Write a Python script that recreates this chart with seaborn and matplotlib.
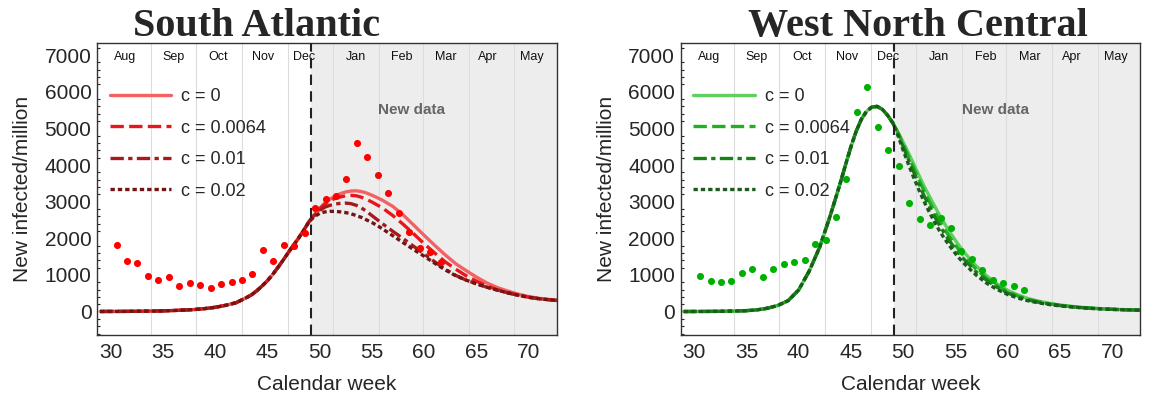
import numpy as np
import pandas as pd
import matplotlib
matplotlib.use("Agg")
import matplotlib.pyplot as plt
import matplotlib.transforms as mtransforms
from matplotlib.ticker import MultipleLocator
import seaborn as sns

# ---------------- data ----------------
c_labels = ["c = 0", "c = 0.0064", "c = 0.01", "c = 0.02"]

# model grid (calendar week)
grid_common = [29, 30, 31, 32, 33, 34, 35, 36, 37, 38, 39, 40, 41, 42, 43,
               43.5, 44, 44.5, 45, 45.5, 46, 46.5, 47, 47.5, 48, 48.5, 49]
grid_tail = [49.5, 50, 50.5, 51, 51.5, 52, 52.5, 53, 53.5, 54, 54.5, 55, 55.5, 56,
             57, 58, 59, 60, 61, 62, 63, 64, 65, 66, 67, 68, 69, 70, 71, 72, 73]

# South Atlantic model
sa_common = [2, 3, 4, 6, 9, 13, 19, 28, 40, 55, 80, 115, 170, 240, 380,
             460, 570, 700, 840, 1010, 1200, 1400, 1610, 1810, 2010, 2230, 2460]
sa_c0 = [2650, 2820, 2960, 3070, 3160, 3220, 3265, 3290, 3295, 3275, 3235, 3175, 3110, 3040,
         2870, 2635, 2360, 2080, 1810, 1550, 1310, 1120, 940, 780, 655, 560, 475, 410, 360, 330, 305]
sa_c0064 = [2640, 2800, 2930, 3030, 3090, 3130, 3160, 3170, 3160, 3120, 3060, 2990, 2910, 2830,
            2620, 2380, 2120, 1850, 1600, 1360, 1160, 980, 830, 700, 595, 515, 445, 390, 350, 320, 295]
sa_c01 = [2620, 2760, 2850, 2900, 2935, 2955, 2960, 2945, 2900, 2830, 2730, 2620, 2510, 2400,
          2190, 1990, 1780, 1570, 1360, 1160, 990, 860, 760, 665, 585, 510, 445, 390, 350, 320, 295]
sa_c02 = [2590, 2680, 2720, 2735, 2735, 2720, 2700, 2670, 2620, 2570, 2500, 2430, 2350, 2260,
          2070, 1880, 1690, 1510, 1320, 1140, 980, 860, 755, 665, 585, 510, 445, 390, 350, 320, 295]

# West North Central model
wnc_common = [1, 2, 3, 5, 9, 15, 25, 45, 90, 165, 300, 590, 1100, 1750, 2600,
              3060, 3530, 4020, 4500, 4920, 5250, 5470, 5580, 5600, 5520, 5360, 5150]
wnc_c0 = [4900, 4620, 4330, 4030, 3720, 3420, 3150, 2880, 2620, 2380, 2150, 1940, 1740, 1560,
          1240, 970, 750, 580, 450, 350, 280, 225, 180, 145, 118, 95, 78, 64, 53, 45, 38]
wnc_c0064 = [4880, 4560, 4240, 3920, 3600, 3290, 3000, 2730, 2470, 2230, 2010, 1810, 1620, 1450,
             1150, 900, 700, 540, 420, 330, 265, 212, 170, 138, 112, 91, 75, 62, 51, 44, 37]
wnc_c01 = [4850, 4500, 4150, 3810, 3480, 3160, 2870, 2600, 2340, 2110, 1900, 1710, 1530, 1370,
           1080, 850, 660, 505, 395, 312, 250, 202, 163, 132, 108, 88, 72, 60, 50, 43, 36]
wnc_c02 = [4800, 4400, 4020, 3660, 3320, 3000, 2710, 2440, 2190, 1970, 1770, 1580, 1410, 1260,
           990, 770, 600, 465, 365, 290, 235, 190, 155, 127, 104, 85, 70, 58, 49, 42, 36]

# observed weekly data
data_weeks = [30.57, 31.57, 32.57, 33.57, 34.57, 35.57, 36.57, 37.57, 38.57, 39.57,
              40.57, 41.57, 42.57, 43.57, 44.57, 45.57, 46.57, 47.57, 48.57, 49.57,
              50.57, 51.57, 52.57, 53.57, 54.57, 55.57, 56.57, 57.57, 58.57, 59.57,
              60.57, 61.57]
sa_data = [1817, 1390, 1336, 981, 855, 945, 700, 790, 736, 654,
           746, 809, 864, 1023, 1681, 1373, 1809, 1781, 2136, 2826,
           3063, 3161, 3616, 4605, 4224, 3733, 3243, 2689, 2163, 1736,
           1618, 1346]
wnc_data = [973, 828, 801, 837, 1054, 1163, 954, 1163, 1291, 1346,
            1409, 1845, 1945, 2589, 3624, 5450, 6131, 5025, 4398, 3978,
            2954, 2526, 2354, 2561, 2272, 1646, 1436, 1136, 856, 774,
            692, 600]

month_names = ["Aug", "Sep", "Oct", "Nov", "Dec", "Jan", "Feb", "Mar", "Apr", "May"]
month_label_pos = [31.4, 36.0, 40.3, 44.6, 48.55, 53.45, 57.9, 62.1, 66.1, 70.3]
month_starts = [33.86, 38.16, 42.56, 46.96, 51.27, 55.67, 59.88, 64.28, 68.6]
new_data_week = 49.14

# ---------------- style ----------------
sns.set_style("white")
plt.rcParams["font.family"] = ["Liberation Sans", "DejaVu Sans"]

fig = plt.figure(figsize=(11.49, 3.99), dpi=100)
ax1 = fig.add_axes([0.0844, 0.1604, 0.4003, 0.7318])
ax2 = fig.add_axes([0.5923, 0.1604, 0.4003, 0.7318])

panels = [
    (ax1, "South Atlantic", 0.348, sa_common, [sa_c0, sa_c0064, sa_c01, sa_c02], sa_data,
     ["#f26262", "#e8161c", "#a81a1a", "#721414"], "#ff0000"),
    (ax2, "West North Central", 0.516, wnc_common, [wnc_c0, wnc_c0064, wnc_c01, wnc_c02], wnc_data,
     ["#5fcf5f", "#22b022", "#178017", "#1c5a1e"], "#00b000"),
]

dash_map = {
    "c = 0": "",
    "c = 0.0064": (4, 1.6),
    "c = 0.01": (4, 1.3, 1.3, 1.3),
    "c = 0.02": (1.3, 0.9),
}

for ax, title, title_x, common, tails, obs, cols, dcol in panels:
    rows = []
    for lab, tail in zip(c_labels, tails):
        xs = grid_common + grid_tail
        ys = common + tail
        for x, y in zip(xs, ys):
            rows.append({"week": x, "value": y, "c": lab})
    df = pd.DataFrame(rows)

    ax.axvspan(new_data_week, 80, color="#ededed", zorder=0, lw=0)
    for m in month_starts:
        ax.axvline(m, color="#dcdcdc", lw=0.8, zorder=0.5)

    sns.lineplot(data=df, x="week", y="value", hue="c", style="c",
                 hue_order=c_labels, style_order=c_labels,
                 palette=dict(zip(c_labels, cols)), dashes=dash_map,
                 linewidth=2.4, ax=ax, legend=True, zorder=2)
    sns.scatterplot(x=data_weeks, y=obs, color=dcol, s=26, linewidth=0, ax=ax, zorder=3)

    ax.axvline(new_data_week, color="#222222", lw=1.5, ls=(0, (5, 3)), zorder=4)

    ax.set_xlim(28.7, 72.7)
    ax.set_ylim(-640, 7330)
    ax.xaxis.set_major_locator(MultipleLocator(5))
    ax.yaxis.set_major_locator(MultipleLocator(1000))
    ax.yaxis.set_minor_locator(MultipleLocator(200))
    ax.tick_params(axis="both", which="major", direction="in", length=5, width=1,
                   labelsize=15, color="#222222")
    ax.tick_params(axis="y", which="minor", direction="in", length=2.5, width=0.8,
                   left=True, color="#222222")
    ax.tick_params(axis="x", which="major", pad=6)
    ax.tick_params(axis="y", which="major", pad=4)
    for sp in ax.spines.values():
        sp.set_color("#333333")
        sp.set_linewidth(1.0)

    ax.set_xlabel("Calendar week", fontsize=15, labelpad=9)
    ax.set_ylabel("New infected/million", fontsize=15, labelpad=9)
    ax.set_title(title, fontfamily=["Liberation Serif", "DejaVu Serif"], fontweight="bold",
                 fontsize=29, pad=5, x=title_x)

    trans = mtransforms.blended_transform_factory(ax.transData, ax.transAxes)
    for name, pos in zip(month_names, month_label_pos):
        ax.text(pos, 0.952, name, transform=trans, ha="center", va="center",
                fontsize=9, color="#111111")

    ax.text(58.8, 5500, "New data", ha="center", va="center", fontsize=11,
            fontweight="bold", color="#666666")

    leg = ax.get_legend()
    handles = leg.legend_handles
    labels = [t.get_text() for t in leg.texts]
    leg.remove()
    for h in handles:
        h.set_linewidth(2.4)
    ax.legend(handles, labels, loc="upper left", bbox_to_anchor=(0.0, 0.888),
              frameon=False, fontsize=13, handlelength=3.4, handletextpad=0.55,
              labelspacing=0.8, borderaxespad=0.3)

fig.savefig("out.png", dpi=100)
